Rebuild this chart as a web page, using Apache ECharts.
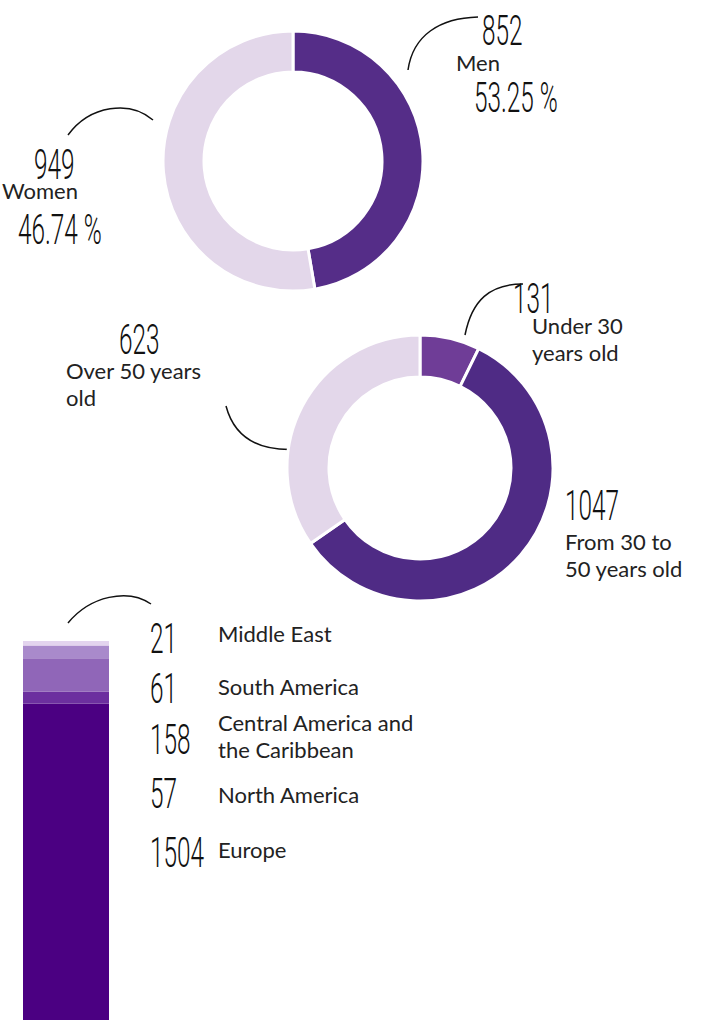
<!DOCTYPE html>
<html>
<head>
<meta charset="utf-8">
<script src="https://cdn.jsdelivr.net/npm/echarts@6/dist/echarts.min.js"></script>
<style>
* { margin: 0; padding: 0; }
html, body { background: #fff; }
</style>
</head>
<body>
<div id="main" style="width:705px;height:1024px;"></div>
<script>
// gender donut
var genderNames = ["Men", "Women"];
var genderValues = [852, 949];
var genderPct = ["53.25 %", "46.74 %"];

// age donut
var ageNames = ["Under 30\nyears old", "From 30 to\n50 years old", "Over 50 years\nold"];
var ageValues = [131, 1047, 623];

// regions, top of the bar first
var regionNames = ["Middle East", "South America", "Central America and\nthe Caribbean", "North America", "Europe"];
var regionValues = [21, 61, 158, 57, 1504];

var genderColors = ["#552d88", "#e3d7ea"];
var ageColors = ["#6f3d97", "#4f2b85", "#e3d7ea"];
var regionColors = ["#e3d4ee", "#a98acb", "#9066b8", "#6c2f9f", "#4b0082"];

var nameFont = "22px Lato";
var handFont = "300 42px Roboto";

// where the labels sit (layout only)
var genderNameAt = [[456, 62], [2, 190]];
var genderNumAt = [[482, 30], [34, 164]];
var genderPctAt = [[474, 97], [18, 229]];
var ageNameAt = [[532, 325], [565, 541], [66, 370]];
var ageNumAt = [[513, 298], [565, 505], [119, 339]];
var regionNameAt = [633, 686, 722, 794, 849];
var regionNumAt = [638, 688, 739, 793, 852];

var g = [];
function nameText(t, x, y) {
  t.split("\n").forEach(function (line, i) {
    g.push({ type: "text", x: x, y: y + i * 27,
      style: { text: line, font: nameFont, fill: "#222", verticalAlign: "middle" } });
  });
}
function handText(t, x, y) {
  g.push({ type: "text", x: x, y: y, scaleX: 0.58,
    style: { text: t, font: handFont, fill: "#111", verticalAlign: "middle" } });
}
genderNames.forEach(function (n, i) {
  nameText(n, genderNameAt[i][0], genderNameAt[i][1]);
  handText(String(genderValues[i]), genderNumAt[i][0], genderNumAt[i][1]);
  handText(genderPct[i], genderPctAt[i][0], genderPctAt[i][1]);
});
ageNames.forEach(function (n, i) {
  nameText(n, ageNameAt[i][0], ageNameAt[i][1]);
  handText(String(ageValues[i]), ageNumAt[i][0], ageNumAt[i][1]);
});
regionNames.forEach(function (n, i) {
  nameText(n, 218, regionNameAt[i]);
  handText(String(regionValues[i]), 150, regionNumAt[i]);
});

// hand drawn connectors
var curves = [
  [408, 70, 413, 35, 440, 18, 478, 17],
  [68, 135, 90, 105, 130, 100, 153, 120],
  [465, 335, 472, 300, 490, 284, 523, 284],
  [226, 406, 235, 440, 262, 452, 300, 449],
  [68, 623, 90, 596, 128, 588, 151, 604]
];
curves.forEach(function (c) {
  g.push({ type: "bezierCurve",
    shape: { x1: c[0], y1: c[1], cpx1: c[2], cpy1: c[3], cpx2: c[4], cpy2: c[5], x2: c[6], y2: c[7] },
    style: { stroke: "#111", lineWidth: 1.5, fill: "none" } });
});

var total = regionValues.reduce(function (a, b) { return a + b; }, 0);

var series = [
  {
    type: "pie",
    center: [293, 161],
    radius: [89, 130],
    startAngle: 90,
    label: { show: false },
    emphasis: { disabled: true },
    itemStyle: { borderColor: "#fff", borderWidth: 3 },
    data: genderNames.map(function (n, i) {
      return { name: n, value: genderValues[i], itemStyle: { color: genderColors[i] } };
    })
  },
  {
    type: "pie",
    center: [420, 468],
    radius: [91, 133],
    startAngle: 90,
    label: { show: false },
    emphasis: { disabled: true },
    itemStyle: { borderColor: "#fff", borderWidth: 3 },
    data: ageNames.map(function (n, i) {
      return { name: n, value: ageValues[i], itemStyle: { color: ageColors[i] } };
    })
  }
];
// stack from the bottom: Europe first
for (var i = regionNames.length - 1; i >= 0; i--) {
  series.push({
    type: "bar",
    name: regionNames[i],
    stack: "regions",
    barWidth: "100%",
    itemStyle: { color: regionColors[i] },
    data: [regionValues[i]]
  });
}

var chart = echarts.init(document.getElementById("main"), null, { renderer: "svg" });
chart.setOption({
  animation: false,
  backgroundColor: "#fff",
  grid: { left: 23, top: 641, width: 86, bottom: 4 },
  xAxis: { type: "category", data: ["regions"], show: false },
  yAxis: { type: "value", min: 0, max: total, show: false },
  series: series,
  graphic: g
});
</script>
</body>
</html>
